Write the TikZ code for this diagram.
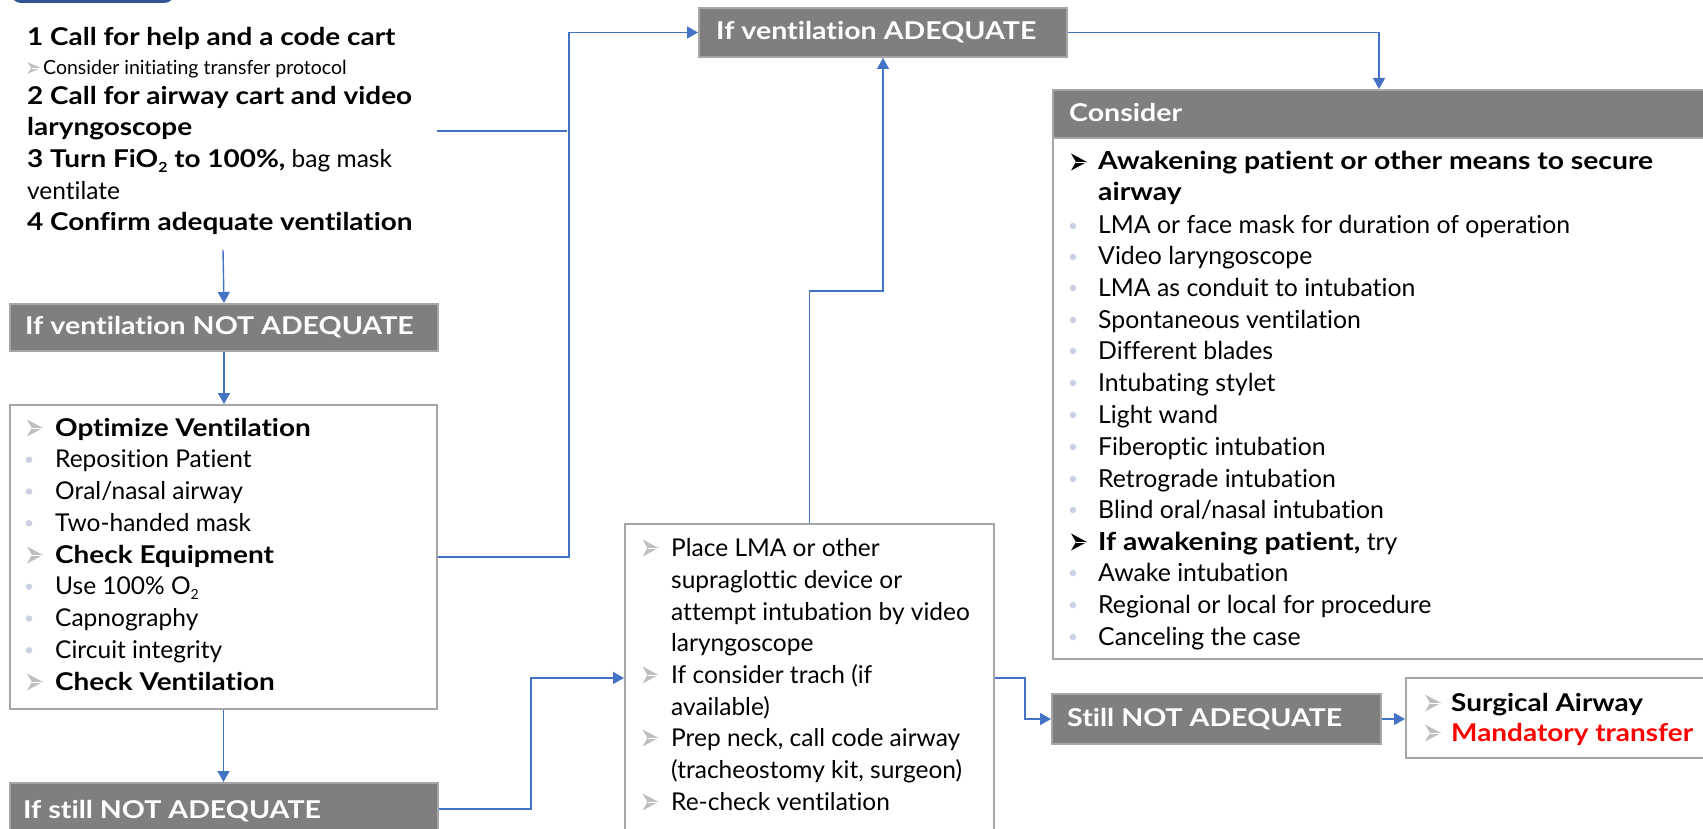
\documentclass[tikz,border=0pt]{standalone}
\usepackage{graphicx}
\usepackage{fontspec}
\setmainfont{Lato}[Ligatures={NoCommon}]
\usetikzlibrary{arrows.meta,calc}
\definecolor{boxgray}{HTML}{7F7F7F}
\definecolor{edgegray}{HTML}{A6A6A6}
\definecolor{connblue}{HTML}{4472C4}
\definecolor{bulgray}{HTML}{BFBFBF}
\definecolor{dotc}{HTML}{C9D0E3}
\definecolor{topblue}{HTML}{2F5597}
\definecolor{alertred}{HTML}{FF0000}
\newcommand{\mybig}{\fontsize{24.5}{29}\selectfont}
\newcommand{\myhdr}{\fontsize{24.5}{29}\selectfont\bfseries}
\newcommand{\mycons}{\fontsize{24.8}{29}\selectfont}
\newcommand{\mysmall}{\fontsize{19.5}{23}\selectfont}
\newcommand{\bx}[1]{\scalebox{1.14}[1]{\textbf{#1}}}
\newcommand{\hx}[1]{\scalebox{1.165}[1]{#1}}
\newcommand{\subtwo}{\raisebox{-0.35ex}{\fontsize{14}{14}\selectfont 2}}
\newcommand{\bula}[2]{\fill[bulgray] (#1,#2) ++(-8,-8.5) -- ++(16,8.5) -- ++(-16,8.5) -- ++(5,-8.5) -- cycle;
  \draw[white,line width=0.7pt] (#1,#2) ++(-3,0) -- ++(10,0);}
\newcommand{\bulas}[2]{\fill[bulgray] (#1,#2) ++(-7,-6) -- ++(14,6) -- ++(-14,6) -- ++(4.5,-6) -- cycle;
  \draw[white,line width=0.6pt] (#1,#2) ++(-2.5,0) -- ++(8,0);}
\newcommand{\bulk}[2]{\fill[black] (#1,#2) ++(-8,-8.5) -- ++(16,8.5) -- ++(-16,8.5) -- ++(5,-8.5) -- cycle;
  \draw[white,line width=0.7pt] (#1,#2) ++(-3,0) -- ++(10,0);}
\newcommand{\buld}[2]{\fill[dotc] ({#1-6},#2) circle (3.2);}
\newcommand{\buln}[2]{}
\tikzset{
  wbox/.style={draw=edgegray, line width=2pt, fill=white, inner sep=0pt, anchor=north west},
  gbox/.style={draw=edgegray, line width=2pt, fill=boxgray, inner sep=0pt, anchor=north west},
  conn/.style={draw=connblue, line width=1.4pt},
  arr/.style={conn, -{Triangle[length=11pt,width=12pt]}},
  txt/.style={anchor=base west, inner sep=0pt, font=\mybig},
  htxt/.style={anchor=base west, inner sep=0pt, font=\myhdr, text=white},
  ctxt/.style={anchor=base west, inner sep=0pt, font=\mycons},
}
\begin{document}
\begin{tikzpicture}[x=1pt,y=-1pt]
\useasboundingbox (0,0) rectangle (1703,829);
\clip (0,0) rectangle (1703,829);
\fill[white] (0,0) rectangle (1703,829);

% top tab
\node[fill=topblue, rounded corners=8pt, minimum width=161pt, minimum height=40pt, inner sep=0pt, anchor=south west] (tab) at (12,3) {};

% boxes
\node[gbox, minimum width=428pt, minimum height=47pt] (NOTADQ) at (9,303) {};
\node[wbox, minimum width=427pt, minimum height=304pt] (OPT) at (9,404) {};
\node[gbox, minimum width=428pt, minimum height=52pt] (STILL1) at (9,782) {};
\node[gbox, minimum width=368pt, minimum height=49pt] (ADQ) at (698,7) {};
\node[wbox, minimum width=680pt, minimum height=521pt] (CONSB) at (1052,137) {};
\node[gbox, minimum width=680pt, minimum height=48pt] (CONSH) at (1052,89) {};
\node[wbox, minimum width=369pt, minimum height=308pt] (LMA) at (624,523) {};
\node[gbox, minimum width=329pt, minimum height=50pt] (STILL2) at (1051,693) {};
\node[wbox, minimum width=330pt, minimum height=80pt] (FINAL) at (1405,677) {};

% connectors
\coordinate (tbE) at (437,131);
\coordinate (tbJ) at (567,131);
\coordinate (tbS) at (223,250);
\draw[conn] (tbE) -- (tbJ);
\draw[arr] (OPT.east) -- ++(131,0) |- (ADQ.west);
\draw[arr] (tbS) -- (NOTADQ.north);
\draw[arr] (NOTADQ.south) -- (NOTADQ.south |- OPT.north);
\draw[arr] (OPT.south) -- (OPT.south |- STILL1.north);
\draw[arr] (STILL1.east) -- ++(92,0) |- (LMA.west);
\draw[arr] (LMA.north) -- ++(0,-232) -| (ADQ.south);
\draw[arr] (ADQ.east) -| ($(CONSH.north west)+(327,0)$);
\draw[arr] (LMA.east) -- ++(30,0) |- (STILL2.west);
\draw[arr] (STILL2.east) -- (STILL2.east -| FINAL.west);

% header texts
\node[htxt] (NOTADQt) at (25,334) {\hx{If ventilation NOT ADEQUATE}};
\node[htxt] (ADQt) at (716,40) {\hx{If ventilation ADEQUATE}};
\node[htxt] (STILL1t) at (23,818) {\hx{If still NOT ADEQUATE}};
\node[htxt] (STILL2t) at (1067,726) {\hx{Still NOT ADEQUATE}};
\node[htxt] (CONSHt) at (1069,122) {\hx{Consider}};

% top text block
\node[txt] (tb1) at (27,46) {\bx{1 Call for help and a code cart}};
\bulas{34}{68}
\node[txt, font=\mysmall] (tb2) at (43,75) {Consider initiating transfer protocol};
\node[txt] (tb3) at (27,105) {\bx{2 Call for airway cart and video}};
\node[txt] (tb4) at (27,136) {\bx{laryngoscope}};
\node[txt] (tb5) at (27,168) {\bx{3 Turn FiO\subtwo{} to 100\%,} bag mask};
\node[txt] (tb6) at (27,200) {ventilate};
\node[txt] (tb7) at (27,231) {\bx{4 Confirm adequate ventilation}};

% OPT list
\foreach \yy/\bt/\tx [count=\i] in {
  428/a/{\bx{Optimize Ventilation}},
  459.75/d/{Reposition Patient},
  491.5/d/{Oral/nasal airway},
  523.25/d/{Two-handed mask},
  555/a/{\bx{Check Equipment}},
  586.75/d/{Use 100\% O\subtwo},
  618.5/d/{Capnography},
  650.25/d/{Circuit integrity},
  682/a/{\bx{Check Ventilation}}} {
  \node[txt] (opt\i) at (55,\yy+8) {\tx};
  \csname bul\bt\endcsname{35}{\yy}
}

% LMA list
\foreach \yy/\bt/\tx [count=\i] in {
  548/a/{Place LMA or other},
  580/n/{supraglottic device or},
  612/n/{attempt intubation by video},
  643/n/{laryngoscope},
  675/a/{If consider trach (if},
  707/n/{available)},
  738/a/{Prep neck, call code airway},
  770/n/{(tracheostomy kit, surgeon)},
  802/a/{Re-check ventilation}} {
  \node[txt] (lma\i) at (671,\yy+8) {\tx};
  \csname bul\bt\endcsname{650.5}{\yy}
}

% CONS list
\foreach \yy/\bt/\tx [count=\i] in {
  162/k/{\bx{Awakening patient or other means to secure}},
  193/n/{\bx{airway}},
  226/d/{LMA or face mask for duration of operation},
  257/d/{Video laryngoscope},
  288/d/{LMA as conduit to intubation},
  320/d/{Spontaneous ventilation},
  351/d/{Different blades},
  383/d/{Intubating stylet},
  415/d/{Light wand},
  447/d/{Fiberoptic intubation},
  479/d/{Retrograde intubation},
  510/d/{Blind oral/nasal intubation},
  542/k/{\bx{If awakening patient,} try},
  573/d/{Awake intubation},
  605/d/{Regional or local for procedure},
  637/d/{Canceling the case}} {
  \node[ctxt] (cons\i) at (1098,\yy+8) {\tx};
  \csname bul\bt\endcsname{1079}{\yy}
}

% FINAL list
\node[txt] (fin1) at (1451,711) {\bx{Surgical Airway}};
\bula{1433}{703}
\node[txt, text=alertred] (fin2) at (1451,741) {\bx{Mandatory transfer}};
\bula{1433}{733}
\end{tikzpicture}
\end{document}
